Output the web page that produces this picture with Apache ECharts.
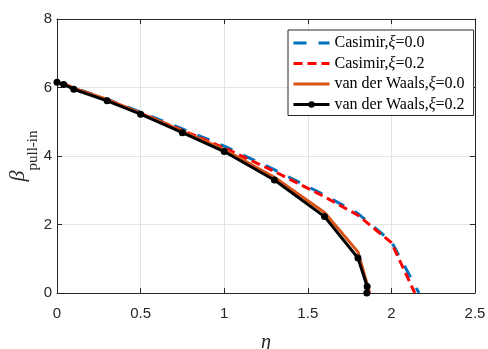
<!DOCTYPE html>
<html><head><meta charset="utf-8">
<script src="https://cdn.jsdelivr.net/npm/echarts@6/dist/echarts.min.js"></script>
<style>html,body{margin:0;padding:0;background:#fff}#c{width:488px;height:349px}</style>
</head><body><div id="c"></div>
<script>
const seriesNames = ['Casimir,ξ=0.0','Casimir,ξ=0.2','van der Waals,ξ=0.0','van der Waals,ξ=0.2'];
const casimir0X = [0, 0.1, 0.3, 0.5, 0.75, 1.0, 1.3, 1.6, 1.8, 2.0, 2.165];
const casimir0Y = [6.15, 5.99, 5.66, 5.28, 4.79, 4.29, 3.6, 2.86, 2.32, 1.5, 0];
const casimir2X = [0, 0.1, 0.3, 0.5, 0.75, 1.0, 1.3, 1.6, 1.8, 2.0, 2.14];
const casimir2Y = [6.15, 5.98, 5.64, 5.25, 4.75, 4.24, 3.55, 2.81, 2.27, 1.47, 0];
const vdw0X = [0, 0.05, 0.1, 0.3, 0.5, 0.75, 1.0, 1.3, 1.6, 1.8, 1.87];
const vdw0Y = [6.15, 6.1, 5.98, 5.65, 5.25, 4.73, 4.19, 3.38, 2.35, 1.2, 0];
const vdw2X = [0, 0.04, 0.1, 0.3, 0.5, 0.75, 1.0, 1.3, 1.6, 1.8, 1.855, 1.853];
const vdw2Y = [6.15, 6.09, 5.95, 5.61, 5.22, 4.68, 4.13, 3.3, 2.23, 1.02, 0.19, 0];
const xTicks = [0, 0.5, 1, 1.5, 2, 2.5];
const yTicks = [0, 2, 4, 6, 8];

const zip = (xs, ys) => xs.map((x, i) => [x, ys[i]]);
const axisColor = '#262626';
const serif = 'Liberation Serif, Times New Roman, serif';
const labelFont = {color: axisColor, fontSize: 15, fontFamily: 'Liberation Sans, Arial, sans-serif'};

const chart = echarts.init(document.getElementById('c'), null, {renderer: 'canvas'});
const baseX = {
  type: 'value', min: xTicks[0], max: xTicks[xTicks.length-1], interval: 0.5,
  axisLine: {show: true, onZero: false, lineStyle: {color: axisColor, width: 1}},
  axisTick: {show: true, inside: true, length: 5, lineStyle: {color: axisColor}}
};
const baseY = {
  type: 'value', min: yTicks[0], max: yTicks[yTicks.length-1], interval: 2,
  axisLine: {show: true, onZero: false, lineStyle: {color: axisColor, width: 1}},
  axisTick: {show: true, inside: true, length: 5, lineStyle: {color: axisColor}}
};
chart.setOption({
  animation: false,
  grid: {left: 57, right: 13, top: 19, bottom: 56, containLabel: false, outerBoundsMode: 'none'},
  legend: {
    left: 288, top: 30, orient: 'vertical', itemWidth: 36, itemHeight: 8, itemGap: 4.5,
    backgroundColor: '#fff', borderColor: '#262626', borderWidth: 1,
    padding: [5, 9, 3, 4],
    lineStyle: {width: 3},
    data: [
      {name: seriesNames[0], itemStyle: {opacity: 0}},
      {name: seriesNames[1], itemStyle: {opacity: 0}},
      {name: seriesNames[2], itemStyle: {opacity: 0}},
      {name: seriesNames[3]}
    ],
    formatter: function (name) {
      const i = name.indexOf('ξ');
      return '{n|' + name.slice(0, i) + '}{i|ξ}{n|' + name.slice(i + 1) + '}';
    },
    textStyle: {
      color: '#000', fontSize: 16, fontFamily: serif,
      rich: {
        n: {fontSize: 16, fontFamily: serif, color: '#000'},
        i: {fontSize: 16, fontStyle: 'italic', fontFamily: serif, color: '#000'}
      }
    }
  },
  xAxis: [
    Object.assign({}, baseX, {
      position: 'bottom',
      name: 'η', nameLocation: 'middle', nameGap: 40, nameMoveOverlap: false,
      nameTextStyle: {fontSize: 20, fontStyle: 'italic', fontFamily: serif, color: axisColor},
      axisLabel: Object.assign({margin: 13}, labelFont),
      splitLine: {show: true, lineStyle: {color: '#e3e3e3', width: 1}}
    }),
    Object.assign({}, baseX, {position: 'top', axisLabel: {show: false}, splitLine: {show: false}})
  ],
  yAxis: [
    Object.assign({}, baseY, {
      position: 'left',
      name: '{b|β}{s|pull-in}', nameLocation: 'middle', nameGap: 16, nameRotate: 90, nameMoveOverlap: false,
      nameTextStyle: {
        color: axisColor,
        rich: {
          b: {fontSize: 22, fontStyle: 'italic', fontFamily: serif, color: axisColor, verticalAlign: 'top', lineHeight: 34},
          s: {fontSize: 15, fontFamily: serif, color: axisColor, verticalAlign: 'bottom', lineHeight: 34}
        }
      },
      axisLabel: Object.assign({margin: 5}, labelFont),
      splitLine: {show: true, lineStyle: {color: '#e3e3e3', width: 1}}
    }),
    Object.assign({}, baseY, {position: 'right', axisLabel: {show: false}, splitLine: {show: false}})
  ],
  series: [
    {name: seriesNames[0], type: 'line', data: zip(casimir0X, casimir0Y), showSymbol: false, symbol: 'none',
     lineStyle: {color: '#0072BD', width: 3, type: [13, 12]}, itemStyle: {color: '#0072BD'}, z: 2},
    {name: seriesNames[1], type: 'line', data: zip(casimir2X, casimir2Y), showSymbol: false, symbol: 'none',
     lineStyle: {color: '#FF0000', width: 3, type: [9, 5]}, itemStyle: {color: '#FF0000'}, z: 3},
    {name: seriesNames[2], type: 'line', data: zip(vdw0X, vdw0Y), showSymbol: false, symbol: 'none',
     lineStyle: {color: '#D95319', width: 3}, itemStyle: {color: '#D95319'}, z: 4},
    {name: seriesNames[3], type: 'line', data: zip(vdw2X, vdw2Y), symbol: 'circle', symbolSize: 7, showSymbol: true,
     lineStyle: {color: '#000', width: 3}, itemStyle: {color: '#000'}, z: 5}
  ]
});
</script></body></html>
